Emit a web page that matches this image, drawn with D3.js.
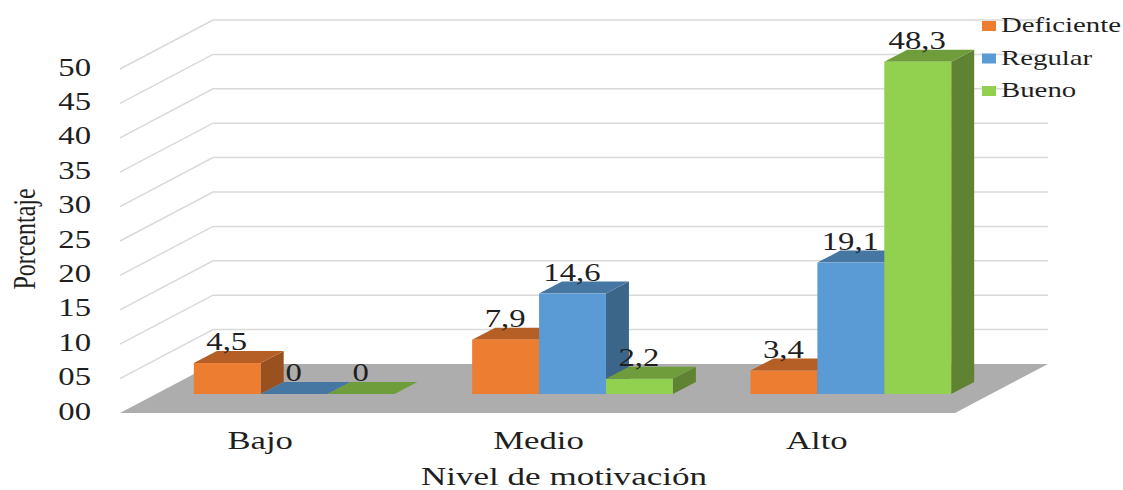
<!DOCTYPE html>
<html lang="es">
<head>
<meta charset="utf-8">
<title>Nivel de motivación</title>
<script src="https://cdn.jsdelivr.net/npm/d3@7/dist/d3.min.js"></script>
<style>
  html, body { margin: 0; padding: 0; background: #fff; }
  svg { display: block; }
  text { font-family: "Liberation Serif", serif; fill: #1f1f1f; }
</style>
</head>
<body>
<svg id="chart" width="1123" height="490"></svg>
<script>
const categories = ["Bajo", "Medio", "Alto"];
const seriesNames = ["Deficiente", "Regular", "Bueno"];
const deficiente = [4.5, 7.9, 3.4];
const regular = [0, 14.6, 19.1];
const bueno = [0, 2.2, 48.3];
const valueLabels = [["4,5", "7,9", "3,4"], ["0", "14,6", "19,1"], ["0", "2,2", "48,3"]];
const yTicks = [0, 5, 10, 15, 20, 25, 30, 35, 40, 45, 50];
const seriesValues = [deficiente, regular, bueno];

const faceColors = [
  { front: "#ED7D31", top: "#B55E25", side: "#9A5120" },
  { front: "#5B9BD5", top: "#4676A2", side: "#3C6689" },
  { front: "#92D050", top: "#6F9D3C", side: "#5F8233" }
];

const svg = d3.select("#chart");
const stretch = 1.31;

// Oblique projection: front edge of the floor, its depth, and the bar depth.
const floorLeft = 120, floorRight = 955;
const floorDepth = { x: 93, y: -49 };
const barInset = { x: 35, y: -19 };
const barDepth = { x: 23, y: -12 };

const y = d3.scaleLinear().domain([0, 50]).range([413, 69]);
const xFront = d3.scaleBand().domain(categories).range([floorLeft, floorRight]);
const xBars = d3.scaleBand().domain(categories)
  .range([floorLeft + barInset.x, floorRight + barInset.x]);
const xSeries = d3.scaleBand().domain(seriesNames)
  .range([0, xBars.bandwidth()]).paddingInner(0).paddingOuter(0.58);

// Wall gridlines: a diagonal along the left wall, then across the back.
const grid = svg.append("g").attr("fill", "none").attr("stroke", "#D9D9D9").attr("stroke-width", 1.5);
grid.selectAll("polyline").data(yTicks.slice(1)).join("polyline")
  .attr("points", d => [
    [floorLeft, y(d)],
    [floorLeft + floorDepth.x, y(d) + floorDepth.y],
    [floorRight + floorDepth.x, y(d) + floorDepth.y]
  ].join(" "));

// Floor
svg.append("polygon")
  .attr("fill", "#ADADAD")
  .attr("points", [
    [floorLeft, y(0)],
    [floorRight, y(0)],
    [floorRight + floorDepth.x, y(0) + floorDepth.y],
    [floorLeft + floorDepth.x, y(0) + floorDepth.y]
  ].join(" "));

// Bars, painted series by series so that later series cover earlier side faces.
const barData = seriesNames.flatMap((name, s) =>
  categories.map((cat, c) => ({ name, s, cat, value: seriesValues[s][c], label: valueLabels[s][c] })));

const bars = svg.append("g").selectAll("g").data(barData).join("g");
const geom = d => {
  const x0 = xBars(d.cat) + xSeries(d.name);
  const x1 = x0 + xSeries.bandwidth();
  const base = y(0) + barInset.y;
  const top = y(d.value) + barInset.y;
  return { x0, x1, base, top };
};
bars.append("polygon")
  .attr("fill", d => faceColors[d.s].side)
  .attr("points", d => {
    const g = geom(d);
    return [[g.x1, g.base], [g.x1 + barDepth.x, g.base + barDepth.y],
            [g.x1 + barDepth.x, g.top + barDepth.y], [g.x1, g.top]].join(" ");
  });
bars.append("polygon")
  .attr("fill", d => faceColors[d.s].top)
  .attr("points", d => {
    const g = geom(d);
    return [[g.x0, g.top], [g.x1, g.top],
            [g.x1 + barDepth.x, g.top + barDepth.y], [g.x0 + barDepth.x, g.top + barDepth.y]].join(" ");
  });
bars.append("rect")
  .attr("fill", d => faceColors[d.s].front)
  .attr("x", d => geom(d).x0)
  .attr("y", d => geom(d).top)
  .attr("width", xSeries.bandwidth())
  .attr("height", d => geom(d).base - geom(d).top);

// Value labels sit on the rear edge of each bar's top face.
svg.append("g").selectAll("text").data(barData).join("text")
  .attr("text-anchor", "middle")
  .attr("font-size", 25)
  .attr("transform", d => {
    const g = geom(d);
    return `translate(${(g.x0 + g.x1) / 2 - 0.5},${g.top - 13}) scale(${stretch},1)`;
  })
  .text(d => d.label);

// Value axis
const yAxis = svg.append("g")
  .attr("transform", "translate(91,-2)")
  .call(d3.axisLeft(y).tickValues(yTicks).tickFormat(d3.format("02")).tickSize(0).tickPadding(0));
yAxis.select(".domain").remove();
yAxis.selectAll("text")
  .attr("x", 0)
  .style("font-size", "25px")
  .attr("transform", `scale(${stretch},1)`);

// Category axis
const xAxis = svg.append("g")
  .attr("transform", "translate(0,449)")
  .call(d3.axisBottom(xFront).tickSize(0).tickPadding(0));
xAxis.select(".domain").remove();
xAxis.selectAll("text")
  .attr("y", 0).attr("dy", 0)
  .style("font-size", "25px")
  .attr("transform", function(d) {
    const cx = xFront(d) + xFront.bandwidth() / 2;
    return `translate(${cx + 1},0) scale(${stretch * 1.06},1)`;
  });
xAxis.selectAll(".tick").attr("transform", "translate(0,0)");

// Axis titles
svg.append("text")
  .attr("text-anchor", "middle")
  .attr("font-size", 25)
  .attr("transform", `translate(564,485) scale(${stretch * 1.07},1)`)
  .text("Nivel de motivación");
svg.append("text")
  .attr("text-anchor", "middle")
  .attr("font-size", 32)
  .attr("transform", "translate(35,239) rotate(-90) scale(0.75,1)")
  .text("Porcentaje");

// Legend
const legendY = d3.scalePoint().domain(seriesNames).range([26, 91]);
const legend = svg.append("g").selectAll("g").data(seriesNames).join("g")
  .attr("transform", d => `translate(982,${legendY(d)})`);
legend.append("rect")
  .attr("y", -5).attr("width", 14).attr("height", 10)
  .attr("fill", (d, i) => faceColors[i].front);
legend.append("text")
  .attr("font-size", 22)
  .attr("transform", `translate(19,6) scale(${stretch},1)`)
  .text(d => d);
</script>
</body>
</html>
